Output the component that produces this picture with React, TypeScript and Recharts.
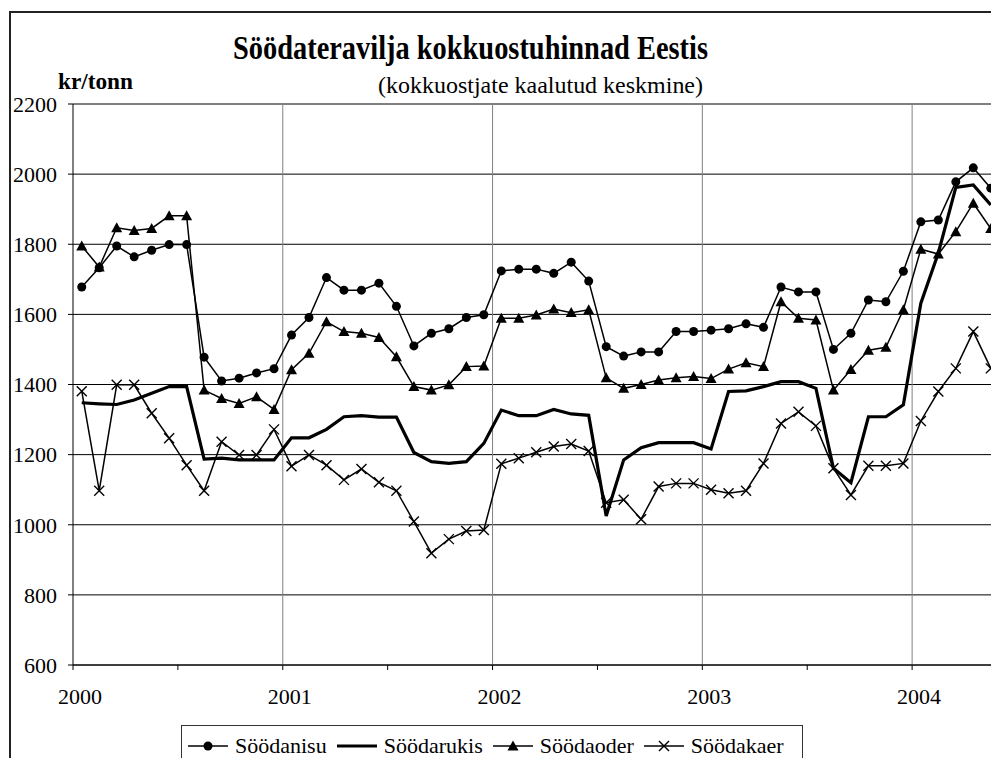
import React from 'react'
import { CartesianGrid, Line, LineChart, ReferenceLine, XAxis, YAxis } from 'recharts'

const SERIF = "'Liberation Serif', Tinos, 'Times New Roman', Times, 'DejaVu Serif', 'Noto Serif', serif"

// monthly series, Jan 2000 .. May 2004 (kr/tonn)
const startYear = 2000

const soodanisu = [
  1678, 1733, 1795, 1764, 1783, 1799, 1799, 1478, 1410, 1418, 1433, 1445,
  1541, 1591, 1705, 1669, 1669, 1689, 1623, 1510, 1546, 1559, 1591, 1599,
  1724, 1729, 1729, 1717, 1749, 1695, 1508, 1481, 1493, 1493, 1551, 1551,
  1555, 1559, 1573, 1563, 1678, 1664, 1664, 1500, 1546, 1641, 1636, 1723,
  1864, 1869, 1978, 2018, 1960,
]

const soodarukis = [
  1348, 1345, 1343, 1356, 1375, 1394, 1394, 1187, 1190, 1185, 1185, 1185,
  1248, 1248, 1272, 1308, 1311, 1307, 1307, 1206, 1180, 1175, 1180, 1232,
  1327, 1311, 1311, 1329, 1316, 1312, 1025, 1185, 1220, 1234, 1234, 1234,
  1216, 1380, 1382, 1394, 1408, 1408, 1389, 1161, 1120, 1308, 1308, 1342,
  1632, 1775, 1962, 1969, 1912,
]

const soodaoder = [
  1795, 1735, 1847, 1839, 1845, 1881, 1881, 1384, 1360, 1346, 1365, 1329,
  1442, 1489, 1579, 1551, 1546, 1534, 1479, 1394, 1384, 1399, 1451, 1453,
  1589, 1589, 1598, 1615, 1605, 1613, 1419, 1389, 1400, 1413, 1419, 1423,
  1417, 1444, 1462, 1451, 1636, 1589, 1584, 1384, 1443, 1498, 1506, 1613,
  1786, 1772, 1836, 1917, 1845,
]

const soodakaer = [
  1381, 1097, 1399, 1399, 1318, 1247, 1170, 1097, 1237, 1199, 1199, 1272,
  1167, 1199, 1170, 1128, 1159, 1121, 1097, 1009, 919, 959, 982, 985,
  1174, 1190, 1207, 1223, 1230, 1210, 1063, 1071, 1016, 1109, 1118, 1118,
  1100, 1090, 1097, 1175, 1289, 1322, 1282, 1161, 1085, 1168, 1168, 1175,
  1296, 1380, 1446, 1551, 1446,
]

const xTicks = [2000, 2000.5, 2001, 2001.5, 2002, 2002.5, 2003, 2003.5, 2004, 2004.5]
const yearLines = [2001, 2002, 2003, 2004]
const yTicks = [600, 800, 1000, 1200, 1400, 1600, 1800, 2000, 2200]

// points sit in the middle of their month
const data = soodanisu.map((v, i) => ({
  t: startYear + (i + 0.5) / 12,
  soodanisu: v,
  soodarukis: soodarukis[i],
  soodaoder: soodaoder[i],
  soodakaer: soodakaer[i],
}))

const CircleDot = (p: any) =>
  p.cx == null ? null : <circle key={`c-${p.index}`} cx={p.cx} cy={p.cy} r={4.5} fill="#000" />

const TriangleDot = (p: any) =>
  p.cx == null ? null : (
    <polygon
      key={`t-${p.index}`}
      points={`${p.cx},${p.cy - 5.5} ${p.cx + 5.5},${p.cy + 4.5} ${p.cx - 5.5},${p.cy + 4.5}`}
      fill="#000"
    />
  )

const CrossDot = (p: any) =>
  p.cx == null ? null : (
    <g key={`x-${p.index}`} stroke="#000" strokeWidth={1.4}>
      <line x1={p.cx - 5} y1={p.cy - 5} x2={p.cx + 5} y2={p.cy + 5} />
      <line x1={p.cx - 5} y1={p.cy + 5} x2={p.cx + 5} y2={p.cy - 5} />
    </g>
  )

const YearTick = (p: any) => {
  const v = p.payload?.value
  if (!Number.isInteger(v)) return null
  return (
    <text x={p.x + 7} y={p.y + 34} textAnchor="middle" fill="#000" style={{ fontSize: 22, fontFamily: SERIF }}>
      {v}
    </text>
  )
}

const legendItems = [
  { name: 'Söödanisu', marker: 'circle', width: 1.5 },
  { name: 'Söödarukis', marker: 'none', width: 3.2 },
  { name: 'Söödaoder', marker: 'triangle', width: 1.5 },
  { name: 'Söödakaer', marker: 'cross', width: 1.5 },
]

function LegendSwatch({ marker, width }: { marker: string; width: number }) {
  return (
    <svg width={40} height={20} style={{ display: 'block' }}>
      <line x1={0} y1={10} x2={40} y2={10} stroke="#000" strokeWidth={width} />
      {marker === 'circle' && <circle cx={20} cy={10} r={4.5} fill="#000" />}
      {marker === 'triangle' && <polygon points="20,4.5 25.5,14.5 14.5,14.5" fill="#000" />}
      {marker === 'cross' && (
        <g stroke="#000" strokeWidth={1.4}>
          <line x1={15} y1={5} x2={25} y2={15} />
          <line x1={15} y1={15} x2={25} y2={5} />
        </g>
      )}
    </svg>
  )
}

const serifText = { fontFamily: SERIF }

export default function App() {
  return (
    <div
      style={{
        position: 'fixed',
        left: 0,
        top: 0,
        width: 991,
        height: 758,
        overflow: 'hidden',
        background: '#fff',
        fontFamily: SERIF,
      }}
    >
      {/* chart frame, runs off the right and bottom edges like the source */}
      <div
        style={{
          position: 'absolute',
          left: 9,
          top: 11,
          width: 1100,
          height: 800,
          border: '2px solid #222',
        }}
      />
      <div style={{ position: 'absolute', left: 0, top: 0 }}>
        <LineChart width={1030} height={758} data={data} margin={{ top: 104, right: 13, bottom: 63, left: 0 }}>
          <CartesianGrid vertical={false} stroke="#000" strokeWidth={1} />
          {yearLines.map((yr) => (
            <ReferenceLine key={yr} x={yr} stroke="#808080" strokeWidth={1} />
          ))}
          <XAxis
            type="number"
            dataKey="t"
            domain={[2000, 2004.5]}
            ticks={xTicks}
            interval={0}
            allowDataOverflow
            height={30}
            tickSize={5}
            tickMargin={0}
            axisLine={{ stroke: '#000' }}
            tickLine={{ stroke: '#000' }}
            tick={<YearTick />}
          />
          <YAxis
            type="number"
            domain={[600, 2200]}
            ticks={yTicks}
            interval={0}
            width={73}
            tickSize={5}
            tickMargin={11}
            axisLine={{ stroke: '#000' }}
            tickLine={{ stroke: '#000' }}
            tick={{ fill: '#000', fontSize: 22, style: serifText }}
          />
          <Line dataKey="soodanisu" stroke="#000" strokeWidth={1.5} dot={CircleDot} activeDot={false} isAnimationActive={false} />
          <Line dataKey="soodarukis" stroke="#000" strokeWidth={3.2} dot={false} activeDot={false} isAnimationActive={false} />
          <Line dataKey="soodaoder" stroke="#000" strokeWidth={1.5} dot={TriangleDot} activeDot={false} isAnimationActive={false} />
          <Line dataKey="soodakaer" stroke="#000" strokeWidth={1.5} dot={CrossDot} activeDot={false} isAnimationActive={false} />
        </LineChart>
      </div>

      <svg width={991} height={110} style={{ position: 'absolute', left: 0, top: 0, pointerEvents: 'none' }}>
        <text x={233} y={59} fontWeight="bold" style={{ ...serifText, fontSize: 34 }} textLength={475} lengthAdjust="spacingAndGlyphs">
          Söödateravilja kokkuostuhinnad Eestis
        </text>
        <text x={58} y={89} fontWeight="bold" style={{ ...serifText, fontSize: 23 }} textLength={75} lengthAdjust="spacingAndGlyphs">
          kr/tonn
        </text>
        <text x={378} y={93} style={{ ...serifText, fontSize: 23 }} textLength={325} lengthAdjust="spacingAndGlyphs">
          (kokkuostjate kaalutud keskmine)
        </text>
      </svg>

      <div
        style={{
          position: 'absolute',
          left: 181,
          top: 725,
          width: 622,
          height: 60,
          border: '1.5px solid #333',
          background: '#fff',
          display: 'flex',
          alignItems: 'flex-start',
          paddingLeft: 6,
          paddingTop: 9,
          boxSizing: 'border-box',
        }}
      >
        {legendItems.map((it) => (
          <div key={it.name} style={{ display: 'flex', alignItems: 'center', marginRight: 10 }}>
            <LegendSwatch marker={it.marker} width={it.width} />
            <span style={{ marginLeft: 7, fontSize: 22, lineHeight: '22px', color: '#000', fontFamily: SERIF }}>
              {it.name}
            </span>
          </div>
        ))}
      </div>
    </div>
  )
}
